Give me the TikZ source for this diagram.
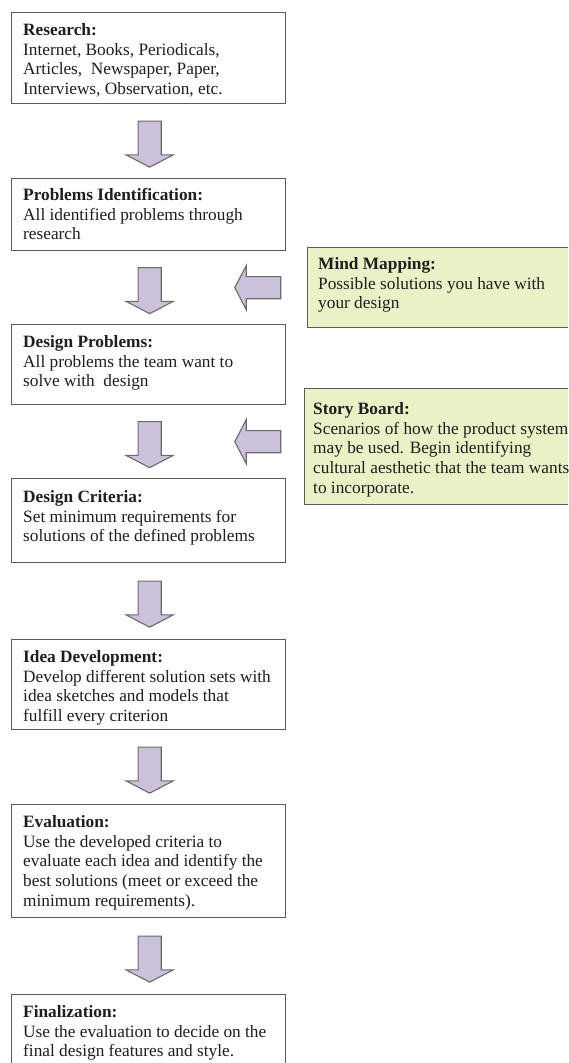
\documentclass[tikz,border=0pt]{standalone}
\usepackage{fontspec}
\setmainfont{Liberation Serif}
\usetikzlibrary{shapes.arrows,calc}
\definecolor{boxline}{HTML}{5A5A5A}
\definecolor{arrowfill}{HTML}{CCC1DA}
\definecolor{arrowline}{HTML}{6A6A6A}
\definecolor{notefill}{HTML}{EBF1C6}
\definecolor{txtcol}{HTML}{1E1E1E}
\begin{document}
\begin{tikzpicture}[x=1pt,y=-1pt,
  stepbox/.style={draw=boxline, line width=1.3pt, fill=white, anchor=north west, inner sep=0pt, minimum width=274pt},
  notebox/.style={stepbox, fill=notefill, minimum width=262pt},
  boxtext/.style={anchor=north west, inner sep=0pt, align=left, font=\fontsize{17.3}{19.8}\selectfont, text=txtcol},
  blockarrow/.style={single arrow, draw=arrowline, fill=arrowfill, line width=1.1pt, inner xsep=0pt, minimum height=46pt, single arrow tip angle=125},
  downarrow/.style={blockarrow, inner ysep=11pt, single arrow head extend=12pt, rotate=-90},
  leftarrow/.style={blockarrow, inner ysep=10.5pt, single arrow head extend=11pt, rotate=180}
]
\useasboundingbox (0,0) rectangle (568,1063);
\clip (0,0) rectangle (568,1063);
% main column
\node[stepbox, minimum height=91pt] (research) at (11,12) {};
\node[stepbox, minimum height=72pt] (problems) at (11,178) {};
\node[stepbox, minimum height=80pt] (design) at (11,324) {};
\node[stepbox, minimum height=84pt] (criteria) at (11,478) {};
\node[stepbox, minimum height=90pt] (idea) at (11,639) {};
\node[stepbox, minimum height=113pt] (evaluation) at (11,804) {};
\node[stepbox, minimum height=95pt] (final) at (11,994) {};
% side notes
\node[notebox, minimum height=80pt] (mind) at (307,247) {};
\node[notebox, minimum height=116pt, minimum width=265pt] (story) at (304,388) {};
% texts
\node[boxtext] (researcht) at ($(research.north west)+(12,11)$) {\textbf{Research:}\\Internet, Books, Periodicals,\\Articles,\ \ Newspaper, Paper,\\Interviews, Observation, etc.};
\node[boxtext] (problemst) at ($(problems.north west)+(12,10)$) {\textbf{Problems Identification:}\\All identified problems through\\research};
\node[boxtext] (designt) at ($(design.north west)+(12,11)$) {\textbf{Design Problems:}\\All problems the team want to\\solve with\ \ design};
\node[boxtext] (criteriat) at ($(criteria.north west)+(12,12)$) {\textbf{Design Criteria:}\\Set minimum requirements for\\solutions of the defined problems};
\node[boxtext] (ideat) at ($(idea.north west)+(12,11)$) {\textbf{Idea Development:}\\Develop different solution sets with\\idea sketches and models that\\fulfill every criterion};
\node[boxtext] (evaluationt) at ($(evaluation.north west)+(12,11)$) {\textbf{Evaluation:}\\Use the developed criteria to\\evaluate each idea and identify the\\best solutions (meet or exceed the\\minimum requirements).};
\node[boxtext] (finalt) at ($(final.north west)+(12,11)$) {\textbf{Finalization:}\\Use the evaluation to decide on the\\final design features and style.};
\node[boxtext] (mindt) at ($(mind.north west)+(11,10)$) {\textbf{Mind Mapping:}\\Possible solutions you have with\\your design};
\node[boxtext] (storyt) at ($(story.north west)+(9,14)$) {\textbf{Story Board:}\\Scenarios of how the product system\\may be used. Begin identifying\\cultural aesthetic that the team wants\\to incorporate.};
% block arrows
\node[downarrow] (a1) at ($(research.south)!0.5!(problems.north)+(1,0)$) {};
\node[downarrow] (a2) at ($(problems.south)!0.5!(design.north)+(1,0)$) {};
\node[downarrow] (a3) at ($(design.south)!0.5!(criteria.north)+(1,0)$) {};
\node[downarrow] (a4) at ($(criteria.south)!0.5!(idea.north)+(1,0)$) {};
\node[downarrow] (a5) at ($(idea.south)!0.5!(evaluation.north)+(1,0)$) {};
\node[downarrow] (a6) at ($(evaluation.south)!0.5!(final.north)+(1,0)$) {};
\node[leftarrow] (m1) at ($(a2)+(111,0)$) {};
\node[leftarrow] (s1) at ($(a3)+(111,0)$) {};
\end{tikzpicture}
\end{document}
